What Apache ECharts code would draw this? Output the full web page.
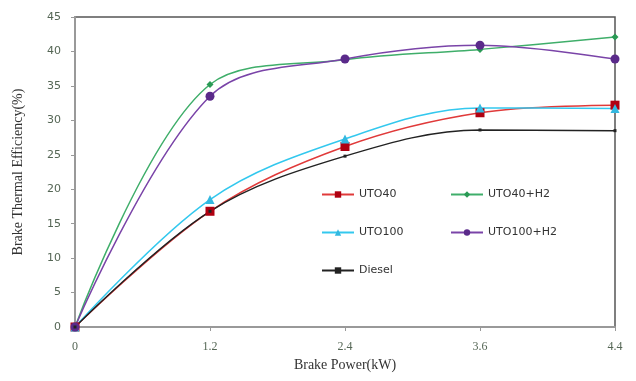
<!DOCTYPE html>
<html><head><meta charset="utf-8">
<script src="https://cdn.jsdelivr.net/npm/echarts@6/dist/echarts.min.js"></script>
<style>html,body{margin:0;padding:0;background:#fff}#c{width:636px;height:381px}</style>
</head><body><div id="c"></div>
<script>
const categories = ['0', '1.2', '2.4', '3.6', '4.4'];
const uto40 = [0, 16.8, 26.2, 31.1, 32.2];
const uto40h2 = [0, 35.2, 38.8, 40.3, 42.1];
const uto100 = [0, 18.5, 27.3, 31.8, 31.7];
const uto100h2 = [0, 33.5, 38.9, 40.9, 38.9];
const diesel = [0, 16.8, 24.8, 28.6, 28.5];
const yTicks = [0, 5, 10, 15, 20, 25, 30, 35, 40, 45];

const chart = echarts.init(document.getElementById('c'));
const serif = 'Liberation Serif';
function s(name, data, color, symbol, size, mcolor) {
  return {
    name, type: 'line', data, smooth: 0.35, symbol, symbolSize: size,
    lineStyle: { color, width: 1.5 }, itemStyle: { color: mcolor || color },
    z: 3
  };
}
chart.setOption({
  animation: false,
  grid: { left: 75, right: 21, top: 17, bottom: 54, show: true, borderColor: '#555', borderWidth: 1.5 },
  xAxis: {
    type: 'category', data: categories, boundaryGap: false,
    name: 'Brake Power(kW)', nameLocation: 'middle', nameGap: 28,
    nameTextStyle: { fontFamily: serif, fontSize: 14, color: '#333' },
    axisLine: { lineStyle: { color: '#999', width: 2 } },
    axisTick: { show: true, length: 4, lineStyle: { color: '#999' } },
    axisLabel: { fontFamily: serif, fontSize: 12, color: '#556655', margin: 14 },
    splitLine: { show: false }
  },
  yAxis: {
    type: 'value', min: 0, max: 45, interval: 5,
    name: 'Brake Thermal Efficiency(%)', nameLocation: 'middle', nameGap: 50,
    nameTextStyle: { fontFamily: serif, fontSize: 14, color: '#333' },
    axisLine: { show: true, lineStyle: { color: '#999', width: 2 } },
    axisTick: { show: true, length: 4, lineStyle: { color: '#999' } },
    axisLabel: { fontFamily: 'DejaVu Sans', fontSize: 11, color: '#556655', margin: 14,
      formatter: v => yTicks.includes(v) ? String(v) : '' },
    splitLine: { show: false }
  },
  legend: [
    { left: 316, top: 184, orient: 'vertical', itemGap: 27, itemWidth: 32, itemHeight: 8,
      data: ['UTO40', 'UTO100', 'Diesel'],
      textStyle: { fontFamily: 'DejaVu Sans', fontSize: 11, color: '#333' } },
    { left: 445, top: 184, orient: 'vertical', itemGap: 27, itemWidth: 32, itemHeight: 8,
      data: ['UTO40+H2', 'UTO100+H2'],
      textStyle: { fontFamily: 'DejaVu Sans', fontSize: 11, color: '#333' } }
  ],
  series: [
    s('UTO40', uto40, '#e03a3a', 'rect', 9, '#b00010'),
    s('UTO40+H2', uto40h2, '#3fae6a', 'diamond', 7, '#2a9a55'),
    s('UTO100', uto100, '#33c8ee', 'triangle', 9, '#33b8e0'),
    s('UTO100+H2', uto100h2, '#7a44a8', 'circle', 9, '#5a2a8a'),
    s('Diesel', diesel, '#222222', 'rect', 3, '#222222')
  ]
});
</script></body></html>
